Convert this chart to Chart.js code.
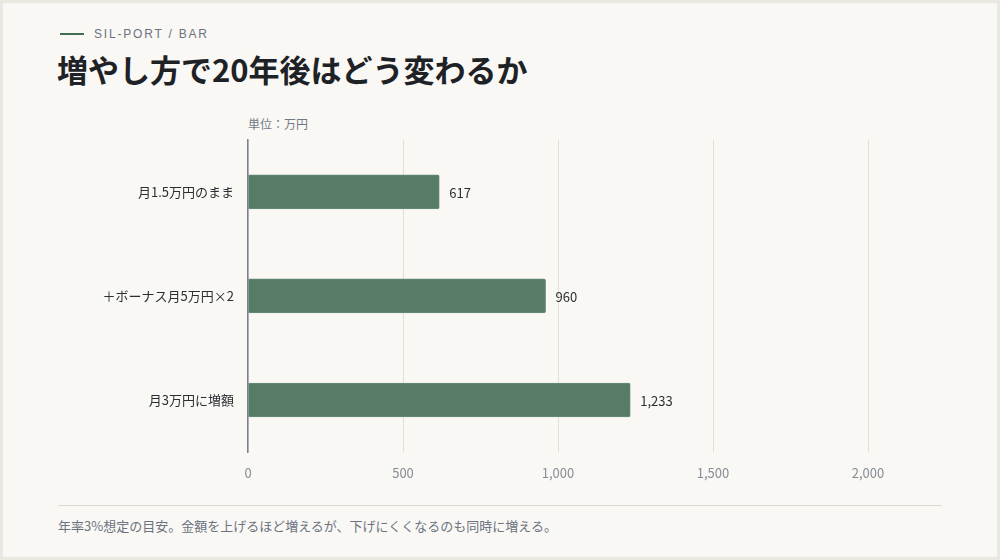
<!DOCTYPE html>
<html lang="ja">
<head>
<meta charset="utf-8">
<script src="https://cdn.jsdelivr.net/npm/chart.js@4/dist/chart.umd.min.js"></script>
<style>
  html, body { margin: 0; padding: 0; }
  body { width: 1000px; height: 560px; background: #ebe8e1; font-family: "Noto Sans CJK JP", "Noto Sans", sans-serif; position: relative; overflow: hidden; }
  .card { position: absolute; left: 3px; top: 3px; width: 994px; height: 554px; background: #f9f8f4; }
  .inner { position: absolute; left: -3px; top: -3px; width: 1000px; height: 560px; }
  .kicker { position: absolute; left: 60px; top: 26px; height: 16px; display: flex; align-items: center; font-size: 12px; letter-spacing: 1.8px; color: #6b7280; font-family: "Liberation Sans", "Noto Sans", sans-serif; }
  .kicker .bar { width: 24px; height: 2px; background: #3f6e55; margin-right: 10px; }
  .title { position: absolute; left: 57px; top: 48px; font-size: 31px; font-weight: 700; color: #1e2226; line-height: 42px; }
  .unit { position: absolute; left: 248px; top: 116px; font-size: 12px; color: #747a85; line-height: 16px; }
  .chartbox { position: absolute; left: 58px; top: 118px; width: 884px; height: 374px; }
  .divider { position: absolute; left: 58px; top: 505px; width: 884px; height: 1px; background: #dcd9d2; }
  .note { position: absolute; left: 58px; top: 516px; font-size: 13px; color: #6b7280; line-height: 20px; }
</style>
</head>
<body>
<div class="card"><div class="inner">
  <div class="kicker"><span class="bar"></span>SIL-PORT / BAR</div>
  <div class="title">増やし方で20年後はどう変わるか</div>
  <div class="unit">単位：万円</div>
  <div class="chartbox"><canvas id="c"></canvas></div>
  <div class="divider"></div>
  <div class="note">年率3%想定の目安。金額を上げるほど増えるが、下げにくくなるのも同時に増える。</div>
</div></div>
<script>
const categories = ["月1.5万円のまま", "＋ボーナス月5万円×2", "月3万円に増額"];
const values = [617, 960, 1233];
const xTicks = [0, 500, 1000, 1500, 2000];

const valueLabels = {
  id: 'valueLabels',
  afterDatasetsDraw(chart) {
    const ctx = chart.ctx;
    const meta = chart.getDatasetMeta(0);
    ctx.save();
    ctx.font = '13px "Noto Sans CJK JP", "Noto Sans", sans-serif';
    ctx.fillStyle = '#2b2f33';
    ctx.textAlign = 'left';
    ctx.textBaseline = 'middle';
    meta.data.forEach((bar, i) => {
      ctx.fillText(values[i].toLocaleString('en-US'), bar.x + 10, bar.y + 1);
    });
    ctx.restore();
  }
};

new Chart(document.getElementById('c'), {
  type: 'bar',
  data: {
    labels: categories,
    datasets: [{
      data: values,
      backgroundColor: '#567c68',
      borderColor: '#6a8b79',
      borderWidth: 1,
      borderRadius: 2,
      borderSkipped: 'left',
      barThickness: 34
    }]
  },
  options: {
    indexAxis: 'y',
    responsive: true,
    maintainAspectRatio: false,
    animation: false,
    layout: { padding: { top: 8, right: 74, bottom: 0, left: 0 } },
    plugins: { legend: { display: false }, tooltip: { enabled: false } },
    scales: {
      x: {
        min: 0, max: 2000,
        afterBuildTicks(scale) { scale.ticks = xTicks.map(v => ({ value: v })); },
        afterFit(scale) { scale.height = 40; },
        border: { display: false },
        grid: { color: '#e2dfd8', lineWidth: 1, drawTicks: false },
        ticks: {
          padding: 13,
          color: '#878c96',
          font: { size: 13, family: '"Noto Sans CJK JP", "Noto Sans", sans-serif' },
          callback: v => Number(v).toLocaleString('en-US')
        }
      },
      y: {
        afterFit(scale) { scale.width = 190; },
        border: { display: true, color: '#7b808c', width: 1.5 },
        grid: { display: false, drawTicks: false },
        ticks: {
          padding: 14,
          color: '#2b2f33',
          font: { size: 13, family: '"Noto Sans CJK JP", "Noto Sans", sans-serif' }
        }
      }
    }
  },
  plugins: [valueLabels]
});
</script>
</body>
</html>
